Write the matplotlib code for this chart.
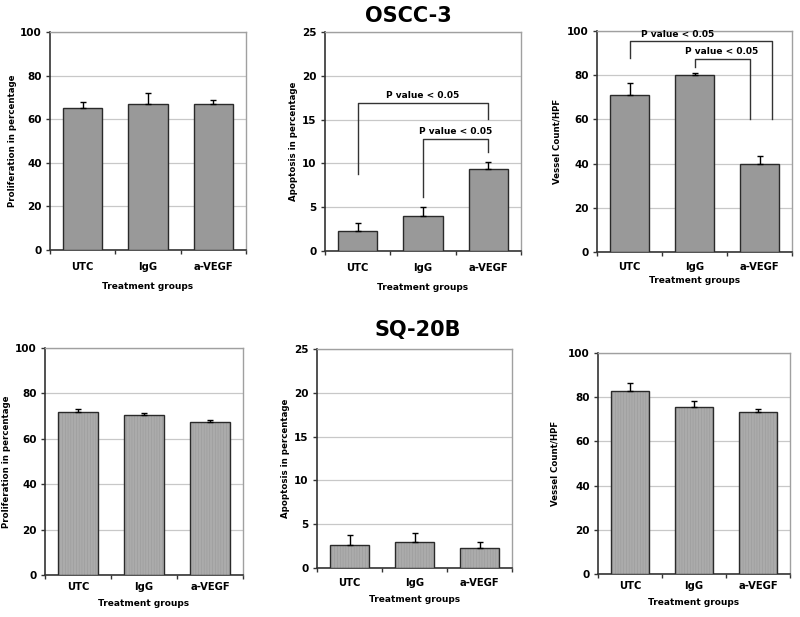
import matplotlib.pyplot as plt
import matplotlib.ticker as ticker
import numpy as np

plt.rcParams['font.family'] = ['DejaVu Sans']
plt.rcParams['font.weight'] = 'bold'
plt.rcParams['hatch.linewidth'] = 0.4

groups = ["UTC", "IgG", "a-VEGF"]

# OSCC-3 (top row)
oscc_prolif = [65, 67, 67]
oscc_prolif_err = [2.7, 5.0, 1.6]
oscc_apop = [2.3, 4.0, 9.4]
oscc_apop_err = [0.9, 1.0, 0.8]
oscc_vessel = [71, 80, 40]
oscc_vessel_err = [5.6, 1.2, 3.3]

# SQ-20B (bottom row)
sq_prolif = [72, 70.5, 67.5]
sq_prolif_err = [1.3, 1.0, 0.6]
sq_apop = [2.6, 3.0, 2.3]
sq_apop_err = [1.2, 1.0, 0.7]
sq_vessel = [83, 75.5, 73.5]
sq_vessel_err = [3.5, 3.0, 1.2]

W, H = 800, 617
fig = plt.figure(figsize=(8, 6.17), dpi=100, facecolor='white')


def px_axes(left, top, right, bottom):
    return fig.add_axes([left / W, 1 - bottom / H, (right - left) / W, (bottom - top) / H])


def bar_panel(ax, vals, errs, ymax, step, ylabel, xlabel, textured, ylab_x, tick_pad, xlab_pad):
    x = np.arange(len(groups))
    if textured:
        # light fill with a fine vertical texture, then the dark outline on top
        ax.bar(x, vals, width=0.6, color='#ababab', edgecolor='#9a9a9a', linewidth=0,
               hatch='||||||', zorder=3)
        ax.bar(x, vals, width=0.6, color='none', edgecolor='#2a2a2a', linewidth=1.0, zorder=3)
    else:
        ax.bar(x, vals, width=0.6, color='#999999', edgecolor='#2a2a2a', linewidth=1.0, zorder=3)
    ax.errorbar(x, vals, yerr=[np.zeros(len(errs)), errs], fmt='none', ecolor='black',
                elinewidth=1.0, capsize=2, capthick=1.0, zorder=4)
    ax.set_xlim(-0.5, 2.5)
    ax.set_ylim(0, ymax)
    ax.yaxis.set_major_locator(ticker.MultipleLocator(step))
    ax.grid(axis='y', color='#c8c8c8', linewidth=0.9, zorder=0)
    ax.set_xticks(x)
    ax.set_xticklabels(groups, fontsize=7.2, fontweight='bold')
    ax.xaxis.set_minor_locator(ticker.FixedLocator([-0.5, 0.5, 1.5, 2.5]))
    ax.tick_params(axis='x', which='major', length=0, pad=tick_pad)
    ax.tick_params(axis='x', which='minor', length=3, width=1, color='#333333')
    ax.tick_params(axis='y', length=3, width=1, labelsize=7.5, color='#333333', pad=3)
    for lab in ax.get_yticklabels():
        lab.set_fontweight('bold')
    for s in ('top', 'right'):
        ax.spines[s].set_color('#a0a0a0')
        ax.spines[s].set_linewidth(1.0)
    for s in ('left', 'bottom'):
        ax.spines[s].set_color('#333333')
        ax.spines[s].set_linewidth(1.2)
    ax.set_ylabel(ylabel, fontsize=6.2, fontweight='bold')
    ax.yaxis.set_label_coords(ylab_x, 0.5)
    ax.set_xlabel(xlabel, fontsize=6.5, fontweight='bold', labelpad=xlab_pad)


def bracket(ax, x1, x2, y1, y2, top, label, tx, ty):
    ax.plot([x1, x1, x2, x2], [y1, top, top, y2], color='#333333', linewidth=1.0, zorder=5,
            clip_on=False)
    ax.text(tx, ty, label, ha='center', va='center', fontsize=6.5, fontweight='bold', zorder=6)


# top row
ax1 = px_axes(50, 32, 246, 250)
bar_panel(ax1, oscc_prolif, oscc_prolif_err, 100, 20, "Proliferation in percentage",
          "Treatment groups", False, -0.17, 9, 7)

ax2 = px_axes(325, 32, 521, 251)
bar_panel(ax2, oscc_apop, oscc_apop_err, 25, 5, "Apoptosis in percentage",
          "Treatment groups", False, -0.14, 9, 7)
bracket(ax2, 0, 2, 8.8, 15.1, 16.95, "P value < 0.05", 1.0, 17.7)
bracket(ax2, 1, 2, 6.2, 11.3, 12.75, "P value < 0.05", 1.5, 13.6)

ax3 = px_axes(597, 31, 792, 252)
bar_panel(ax3, oscc_vessel, oscc_vessel_err, 100, 20, "Vessel Count/HPF",
          "Treatment groups", False, -0.18, 7, 3)
bracket(ax3, 0, 2.19, 88, 60, 95.5, "P value < 0.05", 0.74, 98.3)
bracket(ax3, 1, 1.86, 83.8, 60, 87.2, "P value < 0.05", 1.42, 90.6)

# bottom row
ax4 = px_axes(45, 348, 243, 575)
bar_panel(ax4, sq_prolif, sq_prolif_err, 100, 20, "Proliferation in percentage",
          "Treatment groups", True, -0.17, 5, 5)

ax5 = px_axes(317, 349, 512, 568)
bar_panel(ax5, sq_apop, sq_apop_err, 25, 5, "Apoptosis in percentage",
          "Treatment groups", True, -0.14, 7, 5)

ax6 = px_axes(598, 353, 790, 574)
bar_panel(ax6, sq_vessel, sq_vessel_err, 100, 20, "Vessel Count/HPF",
          "Treatment groups", True, -0.2, 5, 5)

fig.text(408 / W, 1 - 16 / H, "OSCC-3", ha='center', va='center', fontsize=15, fontweight='bold')
fig.text(418 / W, 1 - 330 / H, "SQ-20B", ha='center', va='center', fontsize=15, fontweight='bold')

fig.savefig("out.png", dpi=100, facecolor='white')
